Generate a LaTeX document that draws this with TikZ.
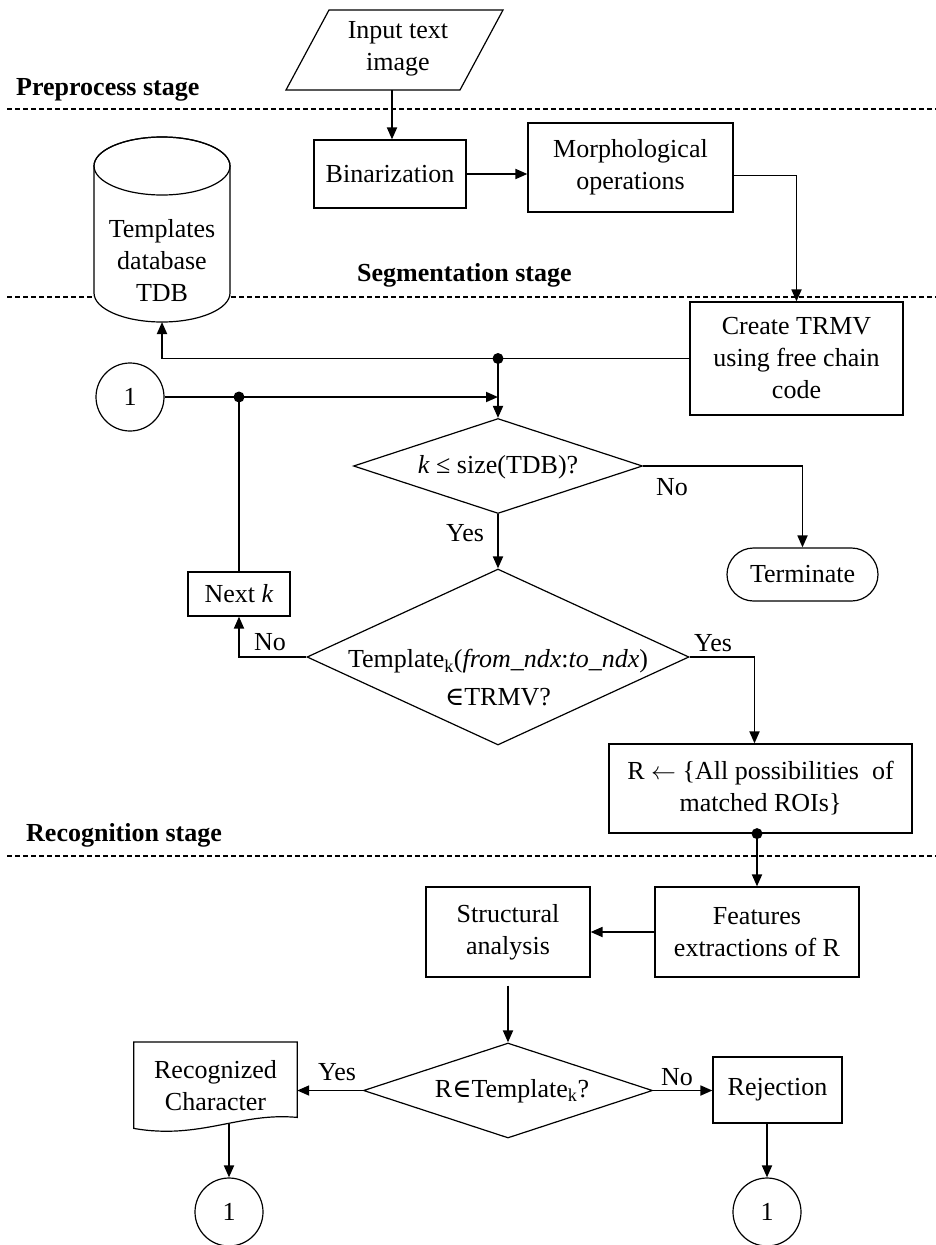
\documentclass[tikz,border=0pt]{standalone}
\usepackage{fontspec}
\setmainfont{Liberation Serif}
\newfontfamily\symfont{DejaVu Serif}
\usetikzlibrary{arrows.meta, shapes.geometric}

\begin{document}
\begin{tikzpicture}[x=1pt, y=1pt, >={Triangle[length=12pt,width=10pt]},
  font=\fontsize{26}{32}\selectfont,
  box/.style={draw, line width=1.2pt, fill=white, inner sep=0pt, align=center},
  decision/.style={diamond, draw, line width=1.2pt, fill=white, inner sep=0pt},
  conn/.style={circle, draw, line width=1.2pt, minimum size=68pt, inner sep=0pt},
  flow/.style={line width=1.8pt},
  sep/.style={line width=1.2pt, dash pattern=on 5pt off 3pt},
  stage/.style={anchor=west, inner sep=0pt, font=\fontsize{26}{32}\selectfont\bfseries}]
  \useasboundingbox (0,0) rectangle (936,-1245);

  % Stage separators
  \draw[sep] (7,-109) -- (936,-109);
  \draw[sep] (7,-297) -- (936,-297);
  \draw[sep] (7,-856) -- (936,-856);
  \node[stage] (pre) at (16,-90) {Preprocess stage};
  \node[stage] (seg) at (357,-275) {Segmentation stage};
  \node[stage] (rcg) at (26,-835) {Recognition stage};

  % Input (parallelogram)
  \filldraw[line width=1.2pt, fill=white] (286,-90) -- (460,-90) -- (503,-10) -- (329,-10) -- cycle;
  \node[align=center] (input) at (398,-49) {Input text\\image};
  \coordinate (inbot) at (392,-90);

  % Templates database (cylinder)
  \filldraw[line width=1.2pt, fill=white] (94,-166) -- (94,-293)
    arc[start angle=180, end angle=360, x radius=68pt, y radius=29pt] -- (230,-166)
    arc[start angle=0, end angle=180, x radius=68pt, y radius=29pt] -- cycle;
  \draw[line width=1.2pt] (162,-166) ellipse [x radius=68pt, y radius=29pt];
  \node[align=center] (tdb) at (162,-261) {Templates\\database\\TDB};
  \coordinate (tdbbot) at (162,-322);

  % Preprocess and segmentation
  \node[box, minimum width=152pt, minimum height=68pt] (bin) at (390,-174) {Binarization};
  \node[box, minimum width=205pt, minimum height=89pt] (morph) at (630.5,-167.5) {Morphological\\operations};
  \node[box, minimum width=213pt, minimum height=113pt] (create) at (796.5,-358.5) {Create TRMV\\using free chain\\code};
  \node[conn] (c1) at (130,-397) {1};
  \node[decision, minimum width=289pt, minimum height=95pt] (d1) at (498,-466) {};
  \node (d1t) at (498,-467) {\textit{k} ≤ size(TDB)?};
  \node[box, rounded corners=26.5pt, minimum width=151pt, minimum height=53pt] (term) at (802.5,-574.5) {Terminate};
  \node[box, minimum width=102pt, minimum height=44pt] (nextk) at (239,-594) {Next \textit{k}};
  \node[decision, minimum width=382pt, minimum height=176pt] (d2) at (498,-657) {};
  \node[align=center] (d2t) at (498,-678) {Template\textsubscript{k}(\textit{from\_ndx}:\textit{to\_ndx})\\[6pt]{\symfont ∈}TRMV?};
  \node[box, minimum width=303pt, minimum height=89pt] (rbox) at (760.5,-788.5) {R $\leftarrow$ \{All possibilities\ \ of\\matched ROIs\}};

  % Recognition
  \node[box, minimum width=204pt, minimum height=90pt] (feat) at (757,-932) {Features\\extractions of R};
  \node[box, minimum width=164pt, minimum height=90pt] (struct) at (508,-932) {Structural\\analysis};
  \node[decision, minimum width=289pt, minimum height=95pt] (d3) at (508,-1090.5) {};
  \node (d3t) at (512,-1091) {R{\symfont ∈}Template\textsubscript{k}?};
  \node[minimum width=163pt, minimum height=86pt, inner sep=0pt, anchor=north, align=center] (rec) at (215.5,-1042) {Recognized\\Character};
  \draw[line width=1.2pt] (rec.north west) -- (rec.north east) -- ([yshift=11pt]rec.south east)
    .. controls (240,-1112) and (200,-1140) .. (rec.south west) -- cycle;
  \coordinate (recout) at (229,-1124);
  \node[box, minimum width=129pt, minimum height=66pt] (rej) at (777.5,-1090) {Rejection};
  \node[conn] (c2) at (229,-1212) {1};
  \node[conn] (c3) at (767,-1212) {1};

  % Connectors
  \draw[flow, ->] (inbot) -- (inbot |- bin.north);
  \draw[flow, ->] (bin.east) -- (bin.east -| morph.west);
  \draw[flow, ->] ([yshift=-8pt]morph.east) -| (create.north);
  \draw[flow, ->] (create.west) -| (tdbbot);
  \coordinate (j1) at (create.west -| d1.north);
  \draw[flow, ->] (j1) -- (d1.north);
  \fill (j1) circle (5.5pt);
  \draw[flow, ->] (c1.east) -- (c1.east -| d1.north);
  \coordinate (j2) at (c1.east -| nextk.north);
  \draw[flow] (nextk.north) -- (j2);
  \fill (j2) circle (5.5pt);
  \draw[flow, ->] (d1.east) -| (term.north);
  \draw[flow, ->] (d1.south) -- (d2.north);
  \draw[flow, ->] (d2.west) -| (nextk.south);
  \draw[flow, ->] (d2.east) -| ([xshift=-6pt]rbox.north);
  \coordinate (j3) at (rbox.south -| feat.north);
  \draw[flow, ->] (j3) -- (feat.north);
  \fill (j3) circle (5.5pt);
  \draw[flow, ->] (feat.west) -- (feat.west -| struct.east);
  \draw[flow, ->] ([yshift=-8pt]struct.south) -- (d3.north);
  \draw[flow, ->] (d3.west) -- (d3.west -| rec.east);
  \draw[flow, ->] (d3.east) -- (d3.east -| rej.west);
  \draw[flow, ->] (recout) -- (c2.north);
  \draw[flow, ->] (rej.south -| c3.north) -- (c3.north);

  % Branch labels
  \node (no1) at (672,-487) {No};
  \node (yes1) at (465,-533) {Yes};
  \node (no2) at (270,-642) {No};
  \node (yes2) at (713,-643) {Yes};
  \node (yes3) at (337,-1072) {Yes};
  \node (no3) at (677,-1077) {No};
\end{tikzpicture}
\end{document}
